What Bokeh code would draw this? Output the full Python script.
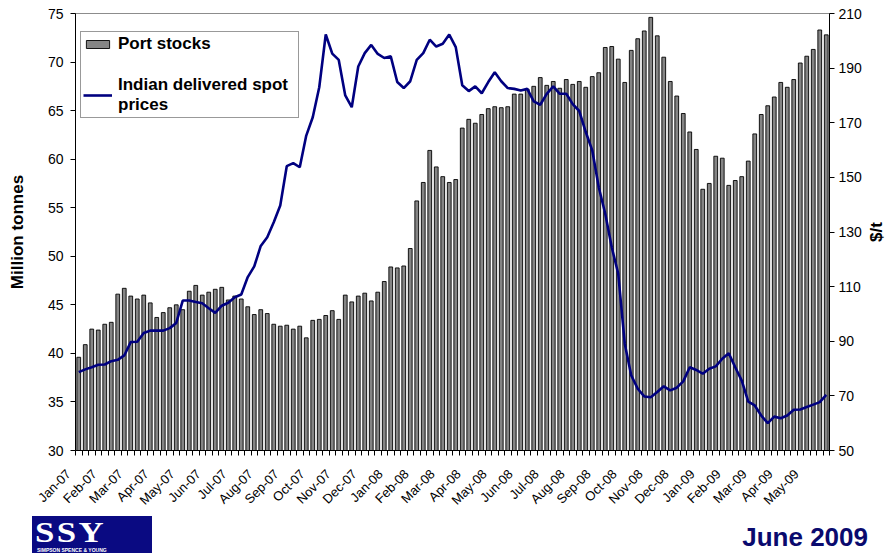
import math
from bokeh.plotting import figure
from bokeh.models import (Range1d, LinearAxis, FixedTicker, Legend, LegendItem,
                          ColumnDataSource, Div)
from bokeh.layouts import column, row
from bokeh.embed import file_html
from bokeh.resources import INLINE
from bokeh.core.properties import value

# ---------------- data ----------------
month_labels = ["Jan-07", "Feb-07", "Mar-07", "Apr-07", "May-07", "Jun-07", "Jul-07",
                "Aug-07", "Sep-07", "Oct-07", "Nov-07", "Dec-07", "Jan-08", "Feb-08",
                "Mar-08", "Apr-08", "May-08", "Jun-08", "Jul-08", "Aug-08", "Sep-08",
                "Oct-08", "Nov-08", "Dec-08", "Jan-09", "Feb-09", "Mar-09", "Apr-09",
                "May-09"]
weeks_per_label = 4

# Port stocks, million tonnes (weekly)
port_stocks = [
    39.6, 40.9, 42.5, 42.4, 43.0, 43.2, 46.1, 46.7, 45.9, 45.6, 46.0, 45.2, 43.7, 44.2,
    44.7, 45.0, 44.5, 46.4, 47.0,
    46.0, 46.3, 46.6, 46.8, 45.5, 45.9, 45.6, 44.8, 44.0, 44.5, 44.1, 43.0, 42.8, 42.9,
    42.5, 42.8, 41.6, 43.4, 43.5, 43.9,
    44.4, 43.5, 46.0, 45.3, 45.9, 46.2, 45.4, 46.3, 47.4, 48.9, 48.8, 49.0, 50.8, 55.7,
    57.6, 60.9, 59.2, 58.2, 57.6,
    57.9, 63.2, 64.1, 63.7, 64.6, 65.2, 65.4, 65.3, 65.4, 66.7, 66.7, 67.2, 67.5, 68.4,
    67.6, 68.0, 67.3, 68.2, 67.7, 68.0,
    67.4, 68.5, 68.9, 71.5, 71.6, 70.3, 67.9, 71.2, 72.4, 73.2, 74.6, 72.7, 70.5, 68.0,
    66.5, 64.7, 62.8, 61.0, 56.9,
    57.5, 60.3, 60.1, 57.3, 57.8, 58.2, 59.8, 62.6, 64.6, 65.5, 66.4, 67.9, 67.4, 68.2,
    69.9, 70.6, 71.3, 73.3, 72.8,
]

# Indian delivered spot prices, $/t (weekly)
spot_prices = [
    78.7, 79.7, 80.5, 81.4, 81.5, 82.7, 83.2, 84.8, 89.7, 89.8, 93.0, 93.9, 93.9, 93.9,
    94.8, 96.7, 104.9, 104.9, 104.4,
    103.9, 102.1, 100.4, 103.0, 104.1, 106.1, 107.1, 113.5, 117.4, 124.9, 128.1, 133.6,
    139.7, 154.1, 155.2, 153.7, 165.3, 172.0, 183.0, 202.3,
    195.3, 193.0, 180.0, 175.7, 190.6, 195.5, 198.5, 195.2, 193.7, 194.3, 184.9, 182.7,
    185.2, 193.0, 195.5, 200.4, 197.9, 198.9, 202.3,
    197.7, 183.7, 181.6, 183.3, 180.8, 184.9, 188.5, 185.2, 182.7, 182.4, 181.8, 182.4,
    177.8, 176.6, 180.6, 183.3, 180.6, 180.6, 176.8, 174.3,
    166.6, 159.9, 146.4, 136.7, 124.4, 114.7, 89.1, 77.5, 72.6, 69.8, 69.5, 71.4, 73.5,
    72.0, 73.0, 75.3, 80.5, 79.5, 78.1,
    79.9, 80.8, 83.6, 85.6, 80.5, 75.6, 67.9, 66.5, 62.8, 60.0, 62.4, 61.8, 62.8, 64.9,
    65.0, 65.9, 66.8, 67.7, 70.4,
]

stock_ticks = [30, 35, 40, 45, 50, 55, 60, 65, 70, 75]
price_ticks = [50, 70, 90, 110, 130, 150, 170, 190, 210]

# ---------------- chart ----------------
n = len(port_stocks)
idx = list(range(n))
src = ColumnDataSource(dict(x=idx, stocks=port_stocks, prices=spot_prices))

FONT = "Liberation Sans"
W_MAIN, W_SIDE, H_MAIN, H_FOOT = 866, 23, 515, 39
y0, y1 = stock_ticks[0], stock_ticks[-1]

p = figure(width=W_MAIN, height=H_MAIN, output_backend="svg", toolbar_location=None,
           x_range=Range1d(-0.5, n - 0.5), y_range=Range1d(y0, y1),
           min_border_left=75, min_border_right=37, min_border_top=13, min_border_bottom=65,
           background_fill_color="white", border_fill_color="white")
p.extra_y_ranges = {"price": Range1d(price_ticks[0], price_ticks[-1])}
p.xgrid.visible = False
p.ygrid.visible = False
p.outline_line_color = "#8c8c8c"
p.outline_line_width = 1

bars = p.vbar(x="x", top="stocks", bottom=y0, width=0.58, source=src,
              fill_color="#858585", line_color="black", line_width=0.9)
line = p.line(x="x", y="prices", source=src, y_range_name="price",
              line_color="#000080", line_width=2.6)

# left axis
ya = p.yaxis[0]
ya.ticker = FixedTicker(ticks=stock_ticks)
ya.axis_label = "Million tonnes"

# right axis (its title is drawn in the side strip so that it reads upwards)
ra = LinearAxis(y_range_name="price", ticker=FixedTicker(ticks=price_ticks))
p.add_layout(ra, "right")

for ax in (ya, ra):
    ax.axis_line_color = "black"
    ax.axis_line_width = 1
    ax.major_tick_out = 5
    ax.major_tick_in = 0
    ax.major_tick_line_color = "black"
    ax.minor_tick_line_color = None
    ax.major_label_text_font = FONT
    ax.major_label_text_font_size = "14px"
    ax.major_label_text_color = "black"
ya.axis_label_text_font = FONT
ya.axis_label_text_font_style = "bold"
ya.axis_label_text_font_size = "17px"
ya.axis_label_text_color = "black"
ya.major_label_standoff = 7
ya.axis_label_standoff = 18
ra.major_label_standoff = 4

# bottom axis: tick marks at every week boundary, month label every 4 weeks
xa = p.xaxis[0]
label_pos = [i * weeks_per_label for i in range(len(month_labels))]
xa.ticker = FixedTicker(ticks=label_pos, minor_ticks=[i - 0.5 for i in range(n + 1)])
pad = "\u00a0" * 4   # pushes each slanted label down-left, as in the original
xa.major_label_overrides = {pos: lab + pad for pos, lab in zip(label_pos, month_labels)}
xa.major_label_orientation = math.pi / 4
xa.major_tick_in = 0
xa.major_tick_out = 0
xa.minor_tick_in = 0
xa.minor_tick_out = 5
xa.minor_tick_line_color = "black"
xa.axis_line_color = "black"
xa.major_label_text_font = FONT
xa.major_label_text_font_size = "13px"
xa.major_label_text_color = "black"
xa.major_label_standoff = 6

legend = Legend(items=[LegendItem(label="Port stocks", renderers=[bars]),
                       LegendItem(label="Indian delivered spot\nprices", renderers=[line])],
                location=(5, 332))
legend.label_text_font = FONT
legend.label_text_font_style = "bold"
legend.label_text_font_size = "17px"
legend.label_text_color = "black"
legend.border_line_color = "#333333"
legend.border_line_width = 1
legend.background_fill_color = "white"
legend.background_fill_alpha = 1
legend.padding = 2
legend.spacing = 21
legend.margin = 0
legend.glyph_width = 29
legend.glyph_height = 10
legend.label_standoff = 6
legend.label_width = 178
p.add_layout(legend)

# side strip with the right-hand axis title, reading upwards
side = figure(width=W_SIDE, height=H_MAIN, output_backend="svg", toolbar_location=None,
              x_range=Range1d(0, W_SIDE), y_range=Range1d(y0, y1),
              x_axis_type=None, y_axis_type=None, min_border=0,
              background_fill_color="white", border_fill_color="white")
side.outline_line_color = None
side.xgrid.visible = False
side.ygrid.visible = False
side.text(x=[10], y=[(y0 + y1) / 2], text=["$/t"], angle=math.pi / 2,
          text_font=value(FONT), text_font_style="bold", text_font_size="17px",
          text_color="black", text_align="center", text_baseline="middle")

# footer: logo and date
footer_html = (
    '<div style="position:relative;width:889px;height:39px;overflow:hidden;">'
    '<div style="position:absolute;left:32px;top:1px;width:120px;height:37px;'
    'background:#0a0a82;"></div>'
    '<div style="position:absolute;left:35px;top:1px;font-family:\'Liberation Serif\';'
    'font-weight:bold;font-size:29px;line-height:32px;color:white;letter-spacing:2px;'
    'transform:scaleX(1.2);transform-origin:left center;">SSY</div>'
    '<div style="position:absolute;left:37px;top:33.3px;font-family:\'Liberation Sans\';'
    'font-weight:bold;font-size:5px;line-height:5.6px;color:white;">SIMPSON SPENCE &amp; YOUNG</div>'
    '<div style="position:absolute;right:21px;top:7.5px;font-family:\'Liberation Sans\';'
    'font-weight:bold;font-size:26px;line-height:29px;color:#0a0a6e;">June 2009</div>'
    '</div>'
)
footer = Div(text=footer_html, width=W_MAIN + W_SIDE, height=H_FOOT, margin=(0, 0, 0, 0))

layout = column(row(p, side, spacing=0), footer, spacing=0)
open("out.html", "w").write(file_html(layout, INLINE))
